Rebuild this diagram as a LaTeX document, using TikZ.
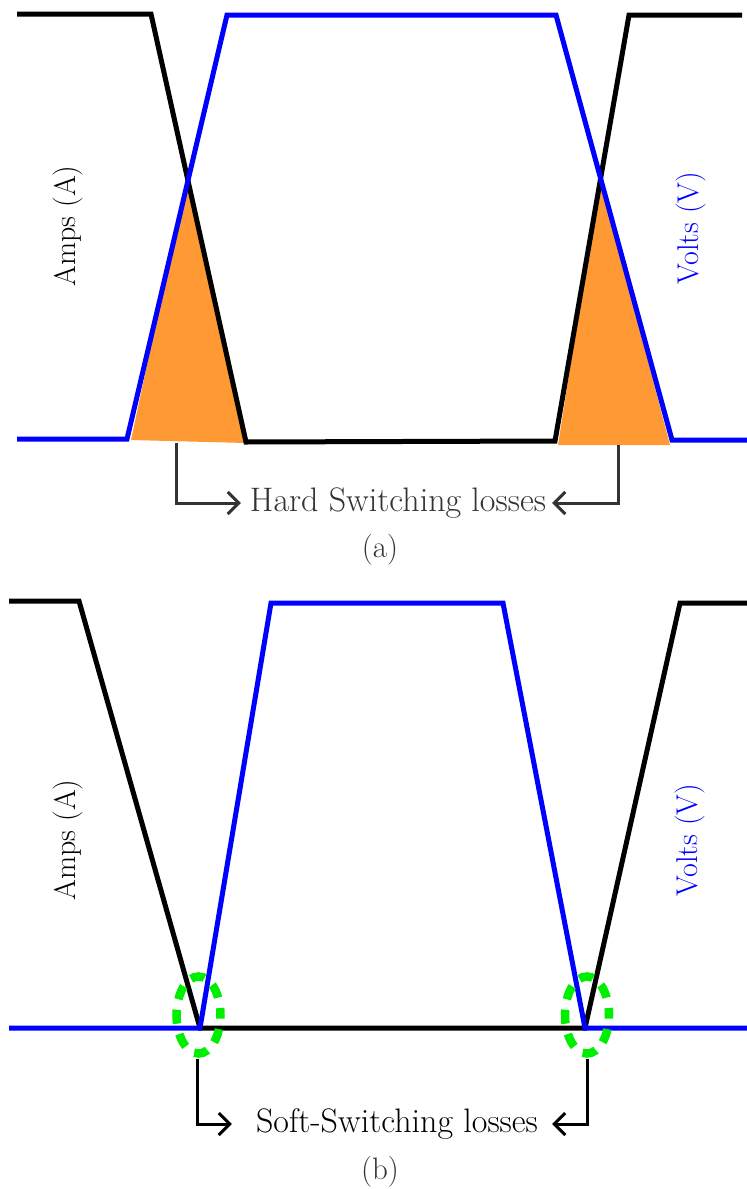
\documentclass[tikz,border=0pt]{standalone}
\usetikzlibrary{arrows.meta}
\definecolor{orng}{HTML}{FF9933}
\definecolor{grn}{HTML}{00EE00}
\definecolor{dgray}{HTML}{333333}
\begin{document}
\begin{tikzpicture}[x=1pt,y=-1pt,
  ampline/.style={draw=black,line width=5pt},
  voltline/.style={draw=blue,line width=5pt},
  lossfill/.style={fill=orng,draw=none},
  lossarrow/.style={draw=dgray,line width=3pt,-{Straight Barb[length=11pt,width=22pt,line width=3pt]}},
  lbl/.style={font=\fontsize{34}{40}\selectfont,text=dgray,inner sep=0pt},
  caplbl/.style={font=\fontsize{31}{36}\selectfont,text=dgray,inner sep=0pt},
  axlbl/.style={font=\fontsize{30}{36}\selectfont,rotate=90,inner sep=0pt},
  softmark/.style={draw=grn,line width=8.5pt,dash pattern=on 14pt off 10.6pt,dash phase=7pt}]
\useasboundingbox (0,0) rectangle (747,1189);
% ---------- panel (a)
\fill[lossfill] (131,440) -- (187,178) -- (246,443) -- cycle;
\fill[lossfill] (558,445) -- (600,178) -- (670,445) -- cycle;
\draw[ampline] (17,14) -- (151,14) -- (246,442) -- (555,441) -- (629,15) -- (742,15);
\draw[voltline] (17,439) -- (127,439) -- (227,15) -- (556,15) -- (672,440) -- (747,440);
\node[axlbl,text=black] (ampa) at (68,226) {Amps (A)};
\node[axlbl,text=blue] (volta) at (691,228) {Volts (V)};
\node[lbl] (hard) at (398,503) {Hard Switching losses};
\node[caplbl] (capa) at (380,550) {(a)};
\coordinate (ha1) at (176,443);
\coordinate (ha2) at (618,445);
\draw[lossarrow] (ha1) |- ([xshift=-9pt]hard.west);
\draw[lossarrow] (ha2) |- ([xshift=6pt]hard.east);
% ---------- panel (b)
\draw[ampline] (9,601) -- (79,601) -- (200,1028) -- (585,1028) -- (680,603) -- (747,603);
\draw[voltline] (9,1028) -- (200,1028) -- (271,603) -- (503,603) -- (585,1028) -- (747,1028);
\node[axlbl,text=black] (ampb) at (68,840) {Amps (A)};
\node[axlbl,text=blue] (voltb) at (690,840) {Volts (V)};
\draw[softmark] (198.5,1015) ellipse [x radius=22pt, y radius=38.5pt];
\draw[softmark] (587,1015) ellipse [x radius=22pt, y radius=38.5pt];
\coordinate (sa1) at (197,1059);
\coordinate (sa2) at (587,1059);
\node[lbl,text=black] (soft) at (397,1124) {Soft-Switching losses};
\node[caplbl] (capb) at (380,1172) {(b)};
\draw[lossarrow,draw=black] (sa1) |- ([xshift=-24pt]soft.west);
\draw[lossarrow,draw=black] (sa2) |- ([xshift=14pt]soft.east);
\end{tikzpicture}
\end{document}
